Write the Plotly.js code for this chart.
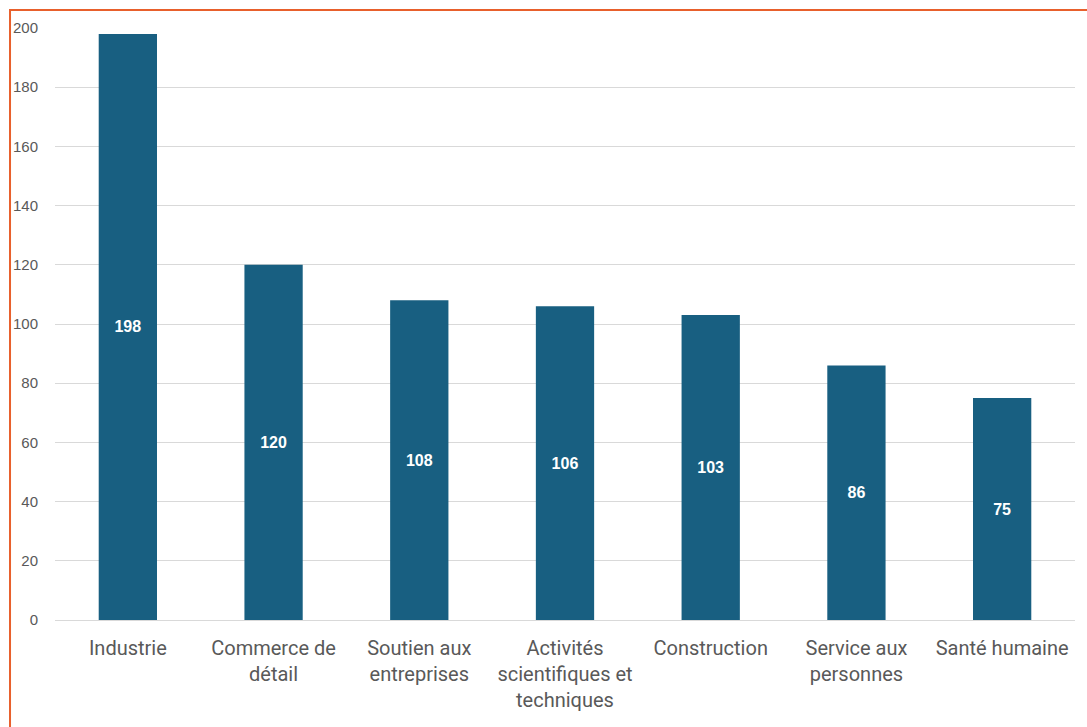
<!DOCTYPE html>
<html>
<head>
<meta charset="utf-8">
<script src="https://cdn.plot.ly/plotly-3.0.1.min.js"></script>
<style>
html,body{margin:0;padding:0;background:#fff;}
#chart{width:1087px;height:727px;}
</style>
</head>
<body>
<div id="chart"></div>
<script>
const categories = ["Industrie", "Commerce de<br>détail", "Soutien aux<br>entreprises", "Activités<br>scientifiques et<br>techniques", "Construction", "Service aux<br>personnes", "Santé humaine"];
const values = [198, 120, 108, 106, 103, 86, 75];
const yTicks = [0, 20, 40, 60, 80, 100, 120, 140, 160, 180, 200];

const trace = {
  type: 'bar',
  x: categories,
  y: values,
  width: 0.4,
  marker: {color: '#185f81'},
  text: values.map(String),
  textposition: 'inside',
  insidetextanchor: 'middle',
  textangle: 0,
  textfont: {family: 'Liberation Sans, Arial, sans-serif', size: 16, color: '#ffffff', weight: 'bold'},
  hoverinfo: 'none'
};

const layout = {
  width: 1087,
  height: 727,
  margin: {l: 55, r: 12, t: 28, b: 107},
  paper_bgcolor: '#ffffff',
  plot_bgcolor: '#ffffff',
  showlegend: false,
  bargap: 0.6,
  xaxis: {
    type: 'category',
    tickfont: {family: 'Roboto, Noto Sans, sans-serif', size: 20, color: '#595959'},
    ticks: 'outside',
    ticklen: 10,
    tickcolor: 'rgba(0,0,0,0)',
    showgrid: false,
    showline: false,
    zeroline: false,
    automargin: false
  },
  yaxis: {
    range: [0, 200],
    tickvals: yTicks,
    ticktext: yTicks.map(String),
    tickfont: {family: 'Liberation Sans, Arial, sans-serif', size: 15, color: '#595959'},
    ticks: 'outside',
    ticklen: 13,
    tickcolor: 'rgba(0,0,0,0)',
    showgrid: true,
    gridcolor: '#d9d9d9',
    gridwidth: 1,
    zeroline: true,
    zerolinecolor: '#d9d9d9',
    zerolinewidth: 1,
    showline: false,
    automargin: false
  },
  shapes: [{
    type: 'rect',
    xref: 'paper', yref: 'paper',
    x0: -0.0441, x1: 1.5,
    y0: -0.5, y1: 1.0304,
    line: {color: '#e8602c', width: 2},
    fillcolor: 'rgba(0,0,0,0)',
    layer: 'above'
  }]
};

Plotly.newPlot('chart', [trace], layout, {staticPlot: true, displayModeBar: false});
</script>
</body>
</html>
